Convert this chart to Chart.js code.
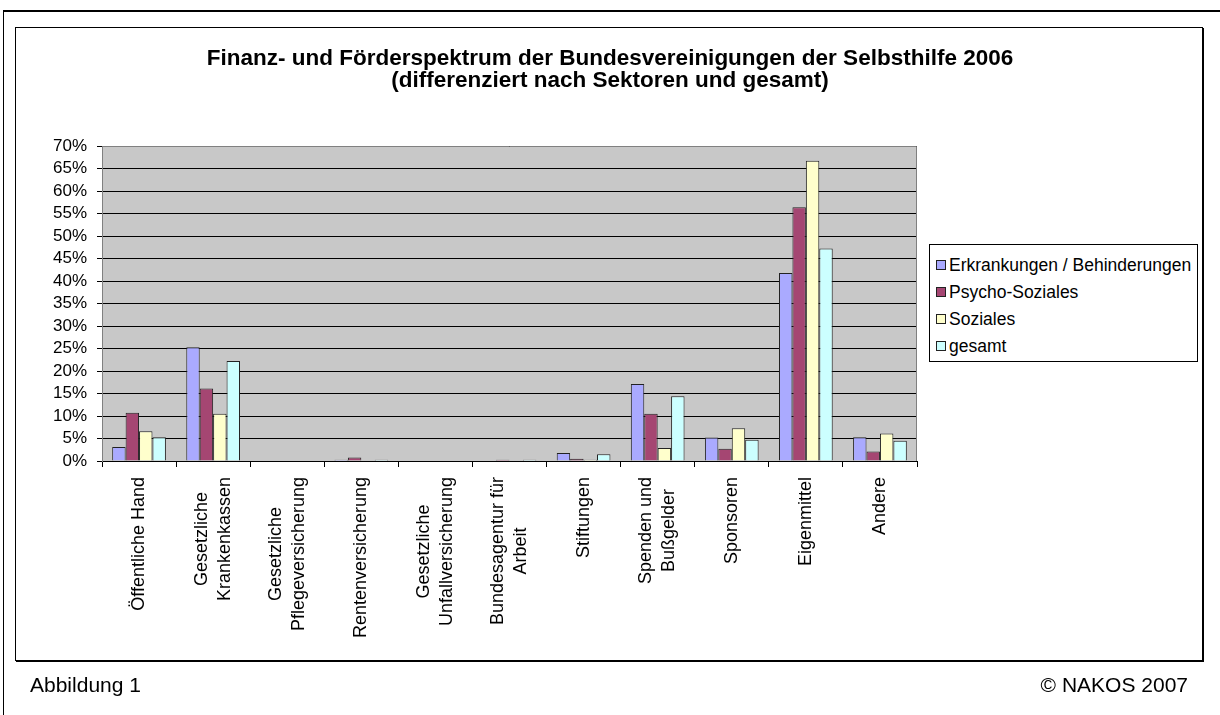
<!DOCTYPE html>
<html>
<head>
<meta charset="utf-8">
<script src="https://cdn.jsdelivr.net/npm/chart.js"></script>
<style>
  html, body { margin:0; padding:0; background:#fff; width:1220px; height:715px; overflow:hidden; font-family:'Liberation Sans', Arial, sans-serif; }
  #outer { position:absolute; left:3px; top:10px; width:1400px; height:900px; border-left:1px solid #000; border-top:2px solid #000; }
  #inner { position:absolute; left:15px; top:27px; width:1186px; height:632px; border:1px solid #000; box-shadow:1px 1px 0 #000; background:#fff; }
  #wrap { position:absolute; left:0; top:0; width:1220px; height:715px; }
  #legend { position:absolute; left:929px; top:244px; width:267px; height:116px; border:1px solid #000; background:#fff; }
  .li { position:absolute; left:6px; height:27px; line-height:27px; font-size:17.5px; white-space:nowrap; color:#000; }
  .sw { display:inline-block; width:8px; height:8px; border:1px solid #222; margin-right:3px; vertical-align:middle; position:relative; top:-1px; }
  .foot { position:absolute; top:673px; font-size:21px; line-height:24px; color:#000; }
</style>
</head>
<body>
<div id="outer"></div>
<div id="inner"></div>
<div id="wrap"><canvas id="c" width="1220" height="715"></canvas></div>
<div id="legend"></div>
<div class="foot" style="left:30px;">Abbildung 1</div>
<div class="foot" style="right:32px;">© NAKOS 2007</div>
<script>
// ---- data ----
const categories = [
  'Öffentliche Hand',
  ['Gesetzliche', 'Krankenkassen'],
  ['Gesetzliche', 'Pflegeversicherung'],
  'Rentenversicherung',
  ['Gesetzliche', 'Unfallversicherung'],
  ['Bundesagentur für', 'Arbeit'],
  'Stiftungen',
  ['Spenden und', 'Bußgelder'],
  'Sponsoren',
  'Eigenmittel',
  'Andere'
];
const seriesNames = ['Erkrankungen / Behinderungen', 'Psycho-Soziales', 'Soziales', 'gesamt'];
const erkrankungen   = [3.1, 25.3, 0, 0.3, 0, 0,   1.8, 17.1, 5.2, 41.8, 5.3];
const psychoSoziales = [10.7, 16.1, 0, 0.8, 0, 0.3, 0.5, 10.5, 2.7, 56.4, 2.1];
const soziales       = [6.6, 10.5, 0, 0,   0, 0,   0.3, 2.9,  7.3, 66.7, 6.1];
const gesamt         = [5.3, 22.2, 0, 0.3, 0, 0.3, 1.5, 14.4, 4.7, 47.2, 4.5];
const yTicks = [0, 5, 10, 15, 20, 25, 30, 35, 40, 45, 50, 55, 60, 65, 70];
const title = ['Finanz- und Förderspektrum der Bundesvereinigungen der Selbsthilfe 2006', '(differenziert nach Sektoren und gesamt)'];
const colors = ['#aaaaff', '#a54672', '#ffffcc', '#ccffff'];

Chart.defaults.font.family = "'Liberation Sans', Arial, sans-serif";
Chart.defaults.color = '#000';

const plotBg = {
  id: 'plotBg',
  beforeDraw(chart) {
    const a = chart.chartArea, ctx = chart.ctx;
    ctx.save();
    ctx.fillStyle = '#c8c8c8';
    ctx.fillRect(a.left, a.top, a.right - a.left, a.bottom - a.top);
    ctx.restore();
    // center multi-line rotated x labels
    const sc = chart.scales.x;
    const items = sc.getLabelItems();
    if (!items._adj) {
      items._adj = true;
      items.forEach(it => {
        if (!it.options || !it.options.translation) return;
        const lines = Array.isArray(it.label) ? it.label : [it.label];
        ctx.save(); ctx.font = it.font.string;
        const w = Math.max(...lines.map(l => ctx.measureText(l).width));
        ctx.restore();
        it.options.translation[0] -= (lines.length - 1) * it.font.lineHeight / 2;
        it.options.translation[1] += w / 2;
        it.options.textAlign = 'center';
      });
    }
  },
  afterDraw(chart) {
    const a = chart.chartArea, ctx = chart.ctx;
    ctx.save();
    ctx.strokeStyle = '#808080';
    ctx.lineWidth = 1;
    ctx.beginPath();
    ctx.moveTo(a.left + 0.5, a.top + 0.5);
    ctx.lineTo(a.right - 0.5, a.top + 0.5);
    ctx.lineTo(a.right - 0.5, a.bottom);
    ctx.stroke();
    ctx.restore();
  }
};

const allSeries = [erkrankungen, psychoSoziales, soziales, gesamt];
const chart = new Chart(document.getElementById('c'), {
  type: 'bar',
  data: {
    labels: categories,
    datasets: allSeries.map((d, i) => ({
      label: seriesNames[i],
      data: d,
      backgroundColor: colors[i],
      borderColor: '#222',
      borderWidth: 1,
      categoryPercentage: 0.725,
      barPercentage: 1.0
    }))
  },
  options: {
    responsive: false,
    animation: false,
    devicePixelRatio: 1,
    layout: { padding: { left: 20, top: 28, right: 20, bottom: 55 } },
    plugins: {
      legend: { display: false },
      tooltip: { enabled: false },
      title: {
        display: true,
        text: title,
        color: '#000',
        font: { size: 22.5, weight: 'bold', lineHeight: '22px' },
        padding: { top: 20, bottom: 54 }
      }
    },
    scales: {
      x: {
        offset: true,
        grid: { display: true, drawOnChartArea: false, drawTicks: true, tickLength: 6, color: '#000' },
        border: { display: true, color: '#000' },
        ticks: { autoSkip: false, minRotation: 90, maxRotation: 90, padding: 10, color: '#000',
                 font: { size: 18, lineHeight: '23px' } },
        afterFit(s) { s.height = 199; }
      },
      y: {
        min: 0, max: 70,
        afterBuildTicks(s) { s.ticks = yTicks.map(v => ({ value: v })); },
        grid: { color: '#000', lineWidth: 1, tickLength: 5, drawTicks: true },
        border: { display: true, color: '#808080' },
        ticks: { autoSkip: false, padding: 10, color: '#000', font: { size: 17, lineHeight: 1 }, callback: v => v + '%' },
        afterFit(s) { s.width = 82; }
      },
      legendSpace: {
        type: 'linear', position: 'right', display: true,
        grid: { display: false, drawTicks: false },
        border: { display: false },
        ticks: { display: false },
        afterFit(s) { s.width = 283; }
      }
    }
  },
  plugins: [plotBg]
});

// legend (built from the dataset names/colours)
const leg = document.getElementById('legend');
seriesNames.forEach((n, i) => {
  const d = document.createElement('div');
  d.className = 'li';
  d.style.top = (7 + i * 27) + 'px';
  d.innerHTML = '<span class="sw" style="background:' + colors[i] + '"></span>' + n;
  leg.appendChild(d);
});
</script>
</body>
</html>
